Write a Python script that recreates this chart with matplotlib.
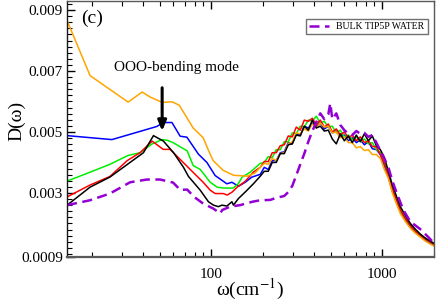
import numpy as np
from matplotlib import pyplot as plt, ticker

plt.rcParams['font.family'] = ['Liberation Serif', 'DejaVu Serif']
plt.rcParams['mathtext.fontset'] = 'stix'

# frequency grid shared by the noisy hump and the tail (cm^-1)
w_hump = [193.6, 204.3, 215.6, 227.5, 240.1, 253.4, 267.4, 282.2, 297.8, 314.3, 331.7,
          350.1, 369.4, 389.9, 411.4, 434.2, 458.2, 483.6, 510.3, 538.6, 568.4, 599.8,
          633.0, 668.0, 705.0, 744.0, 785.2, 828.6, 874.5, 922.9, 974.0, 1027.9]
w_tail = [1085, 1145, 1208, 1275, 1364, 1458, 1560, 1668, 1784, 1908, 2000]

# D(w) values are in units of 1e-3
orange_w = [14.4, 19.6, 32.7, 39.5, 43.9, 51.7, 59.1, 65.0, 70.5, 78.5, 89.8, 96.0,
            102.7, 117.6, 135, 162.4, 180]
orange_d = [8.65, 6.85, 5.98, 6.31, 6.15, 5.97, 5.99, 5.88, 5.56, 5.13, 4.81, 4.42,
            4.06, 3.74, 3.58, 3.55, 3.65]
orange_hump = [3.84, 3.97, 3.94, 4.13, 4.06, 4.29, 4.32, 4.61, 4.68, 4.97, 4.94, 5.10,
               5.03, 5.26, 5.13, 5.29, 5.16, 5.19, 4.97, 5.00, 4.81, 4.84, 4.65, 4.65,
               4.48, 4.52, 4.39, 4.42, 4.26, 4.26, 4.13, 3.77]
orange_tail = [3.48, 3.00, 2.65, 2.32, 2.06, 1.84, 1.68, 1.55, 1.42, 1.32, 1.26]

blue_w = [14.4, 26.3, 48.1, 52.6, 59.0, 65.9, 72.1, 84.3, 94.4, 105.5, 123.5, 132.2,
          144.5, 158.1, 173.0]
blue_d = [4.88, 4.75, 5.18, 5.31, 5.31, 4.86, 4.83, 4.27, 4.00, 3.57, 3.30, 3.35,
          3.22, 3.35, 3.52]
blue_hump = [3.61, 3.84, 3.77, 4.06, 4.06, 4.32, 4.35, 4.65, 4.61, 4.94, 4.90, 5.19,
             5.13, 5.29, 5.19, 5.29, 5.10, 5.19, 4.97, 5.03, 4.84, 4.90, 4.71, 4.81,
             4.65, 4.74, 4.58, 4.68, 4.45, 4.42, 4.26, 3.90]
blue_tail = [3.52, 3.06, 2.71, 2.39, 2.13, 1.90, 1.71, 1.58, 1.45, 1.35, 1.29]

green_w = [14.4, 19.6, 25.6, 32.7, 38.4, 45.2, 51.7, 55.3, 59.9, 72.4, 78.5, 86.3,
           93.5, 98.7, 108.4, 117.6, 134.5, 143.8, 151.8, 169.0]
green_d = [3.39, 3.68, 3.94, 4.23, 4.32, 4.61, 4.75, 4.73, 4.65, 4.38, 3.90, 3.77,
           3.52, 3.35, 3.19, 3.16, 3.16, 3.30, 3.52, 3.68]
green_hump = [3.97, 4.00, 4.19, 4.16, 4.42, 4.42, 4.68, 4.68, 4.97, 4.94, 5.19, 5.16,
              5.39, 5.35, 5.52, 5.29, 5.35, 5.16, 5.19, 4.97, 5.06, 4.84, 4.90, 4.74,
              4.84, 4.68, 4.77, 4.61, 4.65, 4.42, 4.32, 4.00]
green_tail = [3.55, 3.10, 2.74, 2.42, 2.16, 1.94, 1.74, 1.61, 1.48, 1.39, 1.32]

red_w = [14.4, 19.6, 25.6, 32.3, 38.4, 45.2, 52.4, 57.5, 65.9, 72.4, 80.6, 89.8,
         98.7, 105.5, 117.6, 124.1, 132.7, 141.9, 158.1, 176.1]
red_d = [2.87, 3.26, 3.54, 4.06, 4.32, 4.70, 4.43, 4.43, 4.10, 3.87, 3.61, 3.35,
         3.09, 2.98, 2.98, 2.93, 3.03, 3.19, 3.38, 3.68]
red_hump = [3.84, 4.03, 4.03, 4.32, 4.32, 4.55, 4.58, 4.87, 4.84, 5.16, 5.06, 5.39,
            5.35, 5.45, 5.23, 5.39, 5.16, 5.26, 5.00, 5.10, 4.90, 5.00, 4.81, 4.90,
            4.71, 4.84, 4.65, 4.71, 4.52, 4.52, 4.26, 3.97]
red_tail = [3.58, 3.13, 2.77, 2.45, 2.16, 1.94, 1.74, 1.61, 1.48, 1.39, 1.32]

black_w = [14.4, 19.6, 25.6, 40.2, 46.0, 52.6, 60.3, 68.9, 73.7, 78.8, 86.3, 96.4,
           103.1, 110.3, 115.5, 123.5, 132.2, 134.9, 144.5, 158.1, 176.5]
black_d = [2.60, 3.19, 3.52, 4.32, 4.88, 4.70, 4.32, 3.84, 3.54, 3.35, 3.09, 2.71,
           2.60, 2.55, 2.60, 2.57, 2.71, 2.60, 2.82, 3.03, 3.30]
black_hump = [3.55, 3.71, 3.71, 4.00, 4.00, 4.29, 4.29, 4.58, 4.61, 4.90, 4.87, 5.19,
              5.06, 5.39, 5.13, 5.19, 5.03, 5.06, 4.77, 4.61, 4.94, 4.71, 4.87, 4.65,
              4.90, 4.68, 4.94, 4.71, 4.87, 4.55, 4.42, 4.16]
black_tail = [3.71, 3.26, 2.90, 2.55, 2.26, 2.00, 1.81, 1.65, 1.52, 1.42, 1.35]

bulk_w = [14.4, 19.6, 25.6, 33.6, 42.1, 50.3, 59.9, 65.9, 72.4, 79.5, 89.8, 102.7,
          113.0, 116.0, 129.0, 147.8, 173.7, 193.6, 221.4, 240.1, 253.4, 267.4, 282.2,
          297.8, 314.3, 331.7, 350.1, 369.4, 389.9, 411.4, 434.2, 458.2, 483.6, 496.5,
          510.3, 538.6, 568.4, 599.8, 633.0, 668.0, 705.0, 744.0, 785.2, 828.6, 874.5,
          922.9, 974.0, 1027.9, 1085, 1145, 1208, 1327, 1458, 1668, 1858, 2000]
bulk_d = [2.60, 2.76, 2.98, 3.35, 3.44, 3.44, 3.34, 3.10, 3.11, 2.87, 2.65, 2.49,
          2.33, 2.44, 2.55, 2.60, 2.71, 2.76, 2.77, 2.84, 2.87, 2.90, 3.03,
          3.23, 3.58, 3.94, 4.29, 4.68, 5.03, 5.32, 5.61, 5.42, 5.58, 5.94,
          5.42, 5.61, 5.23, 5.06, 4.94, 4.90, 5.03, 4.94, 4.97, 4.84, 4.90,
          4.65, 4.39, 4.13, 3.84, 3.39, 3.03, 2.44, 2.06, 1.81, 1.55, 1.36]

fig = plt.figure(figsize=(4.36, 3.03), dpi=100)
ax = fig.add_axes([0.154, 0.152, 0.841, 0.845])

series = [
    (blue_w, blue_d, blue_hump, blue_tail, '#0000ff'),
    (green_w, green_d, green_hump, green_tail, '#00ee00'),
    (red_w, red_d, red_hump, red_tail, '#ff0000'),
    (orange_w, orange_d, orange_hump, orange_tail, '#ffa500'),
    (black_w, black_d, black_hump, black_tail, '#000000'),
]
for w, d, hump, tail, c in series:
    x = np.array(w + w_hump + w_tail)
    y = np.array(d + hump + tail) * 1e-3
    ax.plot(x, y, color=c, lw=1.1)

ax.plot(bulk_w, np.array(bulk_d) * 1e-3, color='#9400d3', lw=1.8,
        dashes=(4, 2.2), label='BULK TIP5P WATER')

ax.set_xscale('log')
ax.set_xlim(14.4, 2000)
ax.set_ylim(0.0009, 0.0093)

ax.xaxis.set_major_locator(ticker.FixedLocator([100, 1000]))
ax.xaxis.set_major_formatter(ticker.FixedFormatter(['100', '1000']))
ax.xaxis.set_minor_locator(ticker.LogLocator(base=10, subs=np.arange(2, 10)))
ax.xaxis.set_minor_formatter(ticker.NullFormatter())
ax.yaxis.set_major_locator(ticker.FixedLocator([0.0009, 0.003, 0.005, 0.007, 0.009]))
ax.yaxis.set_major_formatter(ticker.FixedFormatter(['0.0009', '0.003', '0.005', '0.007', '0.009']))
ax.yaxis.set_minor_locator(ticker.MultipleLocator(0.0002))

ax.tick_params(which='both', direction='in', top=True, right=False, labelsize=11)
ax.tick_params(which='major', length=6, width=1)
ax.tick_params(which='minor', length=3.5, width=0.8)
ax.tick_params(axis='x', pad=8)
ax.tick_params(axis='y', pad=3)
for s in ax.spines.values():
    s.set_color('0.35')
    s.set_linewidth(1.0)
ax.spines['bottom'].set_linewidth(1.6)
ax.spines['left'].set_color('0.1')

ax.set_xlabel('ω(cm$^{-1}$)', fontsize=14, labelpad=-3)
ax.set_ylabel('D(ω)', fontsize=14)
ax.yaxis.set_label_coords(-0.115, 0.53)

ax.text(0.068, 0.93, '(c)', transform=ax.transAxes, fontsize=14, ha='center', va='center')
ax.text(27.1, 0.0070, 'OOO-bending mode', fontsize=11, ha='left', va='baseline')
ax.annotate('', xy=(51.7, 0.00503), xytext=(51.7, 0.00645),
            arrowprops=dict(arrowstyle='-|>,head_width=0.25,head_length=0.6',
                            lw=2.2, color='black', shrinkA=0, shrinkB=0))

leg = ax.legend(loc='upper right', fontsize=7, frameon=True, fancybox=False,
                handlelength=2.0, borderpad=0.35, bbox_to_anchor=(0.997, 0.95))
leg.get_frame().set_edgecolor('0.3')
leg.get_frame().set_linewidth(1.0)

plt.savefig('out.png', dpi=100)
